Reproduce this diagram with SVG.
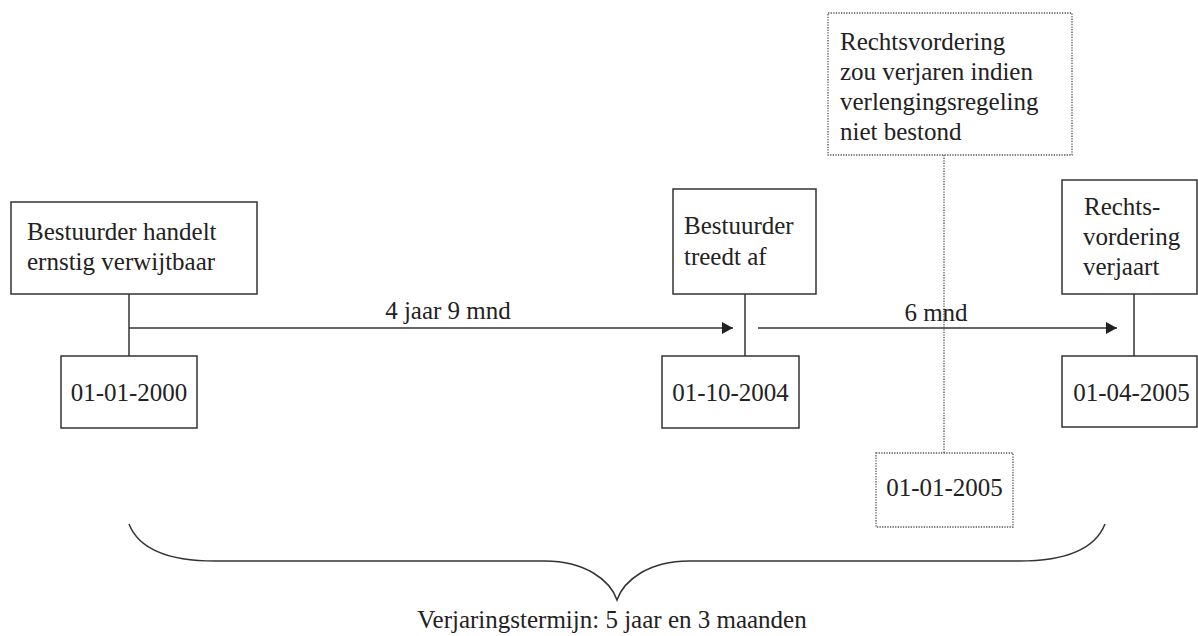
<svg xmlns="http://www.w3.org/2000/svg" width="1198" height="636" viewBox="0 0 1198 636">
<defs>
<style>
.t{font-family:"Liberation Serif","Times New Roman",serif;font-size:25px;fill:#222}
.box{fill:#fff;stroke:#333;stroke-width:1.5}
.dbox{fill:#fff;stroke:#555;stroke-width:1.3;stroke-dasharray:1.3 1.3}
.ln{fill:none;stroke:#333;stroke-width:1.5}
.dl{fill:none;stroke:#555;stroke-width:1.3;stroke-dasharray:1.3 1.3}
</style>
<marker id="ah" viewBox="0 0 11 12" refX="11" refY="6" markerWidth="11" markerHeight="12" markerUnits="userSpaceOnUse" orient="auto">
<path d="M0,0 L11,6 L0,12 Z" fill="#222"/>
</marker>
</defs>
<rect width="1198" height="636" fill="#fff"/>
<g id="connectors">
<line class="ln" x1="129" y1="294" x2="129" y2="356"/>
<line class="ln" x1="745" y1="294" x2="745" y2="356"/>
<line class="ln" x1="1134" y1="294" x2="1134" y2="356"/>
<line class="ln" x1="129" y1="328" x2="733" y2="328" marker-end="url(#ah)"/>
<line class="ln" x1="758" y1="328" x2="1117" y2="328" marker-end="url(#ah)"/>
<line class="dl" x1="944" y1="155" x2="944" y2="453"/>
<text class="t" x="448" y="319" text-anchor="middle">4 jaar 9 mnd</text>
<text class="t" x="936" y="321" text-anchor="middle">6 mnd</text>
</g>
<g id="n1">
<rect class="box" x="11" y="202" width="246" height="92"/>
<text class="t" x="27" y="240">Bestuurder handelt</text>
<text class="t" x="27" y="270">ernstig verwijtbaar</text>
</g>
<g id="d1">
<rect class="box" x="61" y="356" width="136" height="72"/>
<text class="t" x="129" y="401" text-anchor="middle">01-01-2000</text>
</g>
<g id="n2">
<rect class="box" x="673" y="189" width="143" height="105"/>
<text class="t" x="684" y="234">Bestuurder</text>
<text class="t" x="684" y="265">treedt af</text>
</g>
<g id="d2">
<rect class="box" x="662" y="356" width="137" height="72"/>
<text class="t" x="730.5" y="401" text-anchor="middle">01-10-2004</text>
</g>
<g id="n3">
<rect class="box" x="1062" y="180" width="135" height="114"/>
<text class="t" x="1084" y="215">Rechts-</text>
<text class="t" x="1083" y="245">vordering</text>
<text class="t" x="1083" y="275">verjaart</text>
</g>
<g id="d3">
<rect class="box" x="1062" y="356" width="135" height="71"/>
<text class="t" x="1131.5" y="401" text-anchor="middle">01-04-2005</text>
</g>
<g id="n4">
<rect class="dbox" x="828" y="13" width="244" height="142"/>
<text class="t" x="840" y="50">Rechtsvordering</text>
<text class="t" x="840" y="80">zou verjaren indien</text>
<text class="t" x="840" y="110">verlengingsregeling</text>
<text class="t" x="840" y="140">niet bestond</text>
</g>
<g id="d4">
<rect class="dbox" x="876" y="453" width="137" height="74"/>
<text class="t" x="944.5" y="496" text-anchor="middle">01-01-2005</text>
</g>
<g id="brace">
<path class="ln" d="M129,524 C140,552 175,561 215,561 L545,561 C585,561 610,580 617,600 C624,580 649,561 689,561 L1019,561 C1059,561 1094,552 1105,524"/>
<text class="t" x="612" y="628" text-anchor="middle">Verjaringstermijn: 5 jaar en 3 maanden</text>
</g>
</svg>
